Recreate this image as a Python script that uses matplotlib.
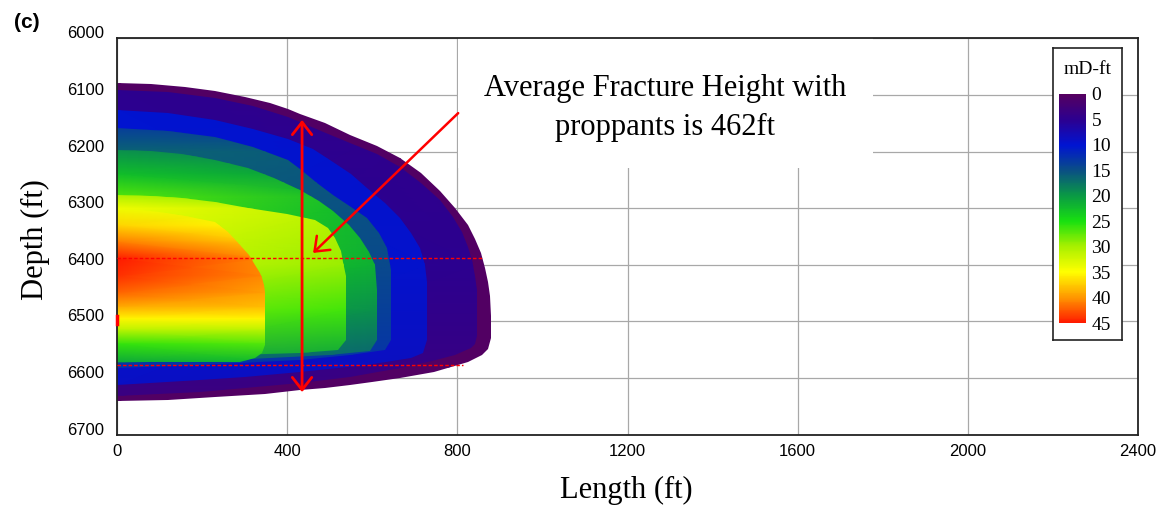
import matplotlib
matplotlib.use('Agg')
import matplotlib.pyplot as plt
import numpy as np
from matplotlib.colors import LinearSegmentedColormap, Normalize
from matplotlib.patches import Polygon, Rectangle
from matplotlib.cm import ScalarMappable
from matplotlib.transforms import ScaledTranslation

plt.rcParams['font.family'] = ['Liberation Sans', 'DejaVu Sans']
SERIF = 'Liberation Serif'

# legend scale (mD-ft)
cbar_ticks = [0, 5, 10, 15, 20, 25, 30, 35, 40, 45]
cbar_colors = ['#550060', '#2c0090', '#0014d2', '#0a4f84', '#0a9a44',
               '#18e010', '#a8f000', '#ffff00', '#ff9800', '#ff1a00']

# region outlines: length (ft) / depth (ft), outer -> inner
rim_len = [0, 80, 160, 231, 300, 360, 402, 431, 490, 548, 610, 666, 715, 760, 795, 824, 842, 856,
           866, 873, 877, 878, 878, 872, 859, 840, 824, 785, 744, 666, 600, 548, 490, 431, 348,
           231, 120, 0]
rim_dep = [6079, 6081, 6086, 6093, 6103, 6114, 6125, 6133, 6150, 6170, 6190, 6211, 6238, 6270,
           6300, 6330, 6355, 6380, 6405, 6430, 6455, 6490, 6529, 6548, 6559, 6566, 6571, 6580,
           6589, 6600, 6607, 6612, 6617, 6621, 6628, 6634, 6638, 6640]
ind_len = [0, 120, 231, 320, 402, 480, 548, 610, 666, 715, 760, 790, 812, 826, 835, 842, 847, 847,
           841, 831, 815, 795, 740, 666, 548, 431, 300, 195, 0]
ind_dep = [6091, 6095, 6105, 6120, 6139, 6163, 6185, 6205, 6227, 6255, 6285, 6315, 6342, 6368,
           6392, 6420, 6445, 6525, 6540, 6547, 6553, 6559, 6570, 6582, 6598, 6609, 6618, 6625, 6632]
blue_len = [0, 120, 231, 320, 402, 460, 508, 550, 588, 630, 666, 692, 713, 725, 729, 729, 720,
            690, 588, 431, 300, 195, 0]
blue_dep = [6127, 6132, 6144, 6160, 6178, 6196, 6218, 6240, 6264, 6290, 6317, 6343, 6370, 6400,
            6430, 6533, 6555, 6565, 6577, 6589, 6598, 6604, 6612]
teal_len = [0, 120, 231, 320, 402, 431, 470, 508, 550, 588, 615, 635, 645, 645, 631, 548, 431,
            195, 0]
teal_dep = [6158, 6163, 6174, 6192, 6215, 6230, 6255, 6277, 6298, 6317, 6343, 6370, 6409, 6533,
            6551, 6559, 6568, 6577, 6582]
green_len = [0, 80, 153, 230, 308, 370, 431, 475, 508, 545, 572, 593, 607, 612, 612, 595, 501,
             313, 0]
green_dep = [6197, 6199, 6204, 6214, 6229, 6246, 6268, 6288, 6305, 6330, 6353, 6377, 6400, 6444,
             6533, 6553, 6560, 6566, 6574]
yg_len = [0, 80, 153, 230, 308, 400, 466, 495, 513, 526, 532, 538, 539, 539, 520, 431, 195, 0]
yg_dep = [6277, 6278, 6282, 6289, 6300, 6310, 6320, 6335, 6353, 6375, 6395, 6420, 6444, 6533,
          6550, 6556, 6562, 6565]
core_len = [0, 60, 101, 160, 231, 262, 289, 310, 325, 336, 341, 346, 348, 348, 340, 325, 289, 0]
core_dep = [6303, 6304, 6307, 6313, 6325, 6342, 6365, 6383, 6400, 6415, 6423, 6435, 6448, 6542,
            6556, 6565, 6572, 6572]

# conductivity vs depth inside each region, at length 0 (left) and at its edge (right)
rim_pdep = [6075, 6645]
rim_left = [0.5, 0.5]
rim_right = [0.5, 0.5]
ind_pdep = [6090, 6400, 6635]
ind_left = [5, 5.5, 3.5]
ind_right = [4.5, 5, 3.5]
blue_pdep = [6125, 6400, 6612]
blue_left = [10, 10, 9]
blue_right = [9.5, 9.5, 8.5]
teal_pdep = [6155, 6200, 6400, 6585]
teal_left = [13.5, 16.5, 15, 12.5]
teal_right = [13.5, 15.5, 14.5, 12.5]
green_pdep = [6195, 6240, 6280, 6400, 6480, 6575]
green_left = [19, 22.5, 27, 25, 22, 16.5]
green_right = [18, 20, 22, 21.5, 19.5, 16]
yg_pdep = [6275, 6300, 6400, 6480, 6570]
yg_left = [30, 34, 32.5, 28.5, 21]
yg_right = [28, 31, 29.5, 26.5, 20.5]
core_pdep = [6300, 6330, 6360, 6390, 6420, 6450, 6475, 6495, 6515, 6540, 6572]
core_left = [34, 37, 41, 45, 44, 42, 39, 35.5, 31, 26, 21]
core_right = [33, 35, 37.5, 40.5, 40.5, 39.5, 38, 35.5, 31, 27, 22]

x_ticks = [0, 400, 800, 1200, 1600, 2000, 2400]
y_ticks = [6000, 6100, 6200, 6300, 6400, 6500, 6600, 6700]

cmap = LinearSegmentedColormap.from_list(
    'frac', list(zip(np.array(cbar_ticks) / 45.0, cbar_colors)))
norm = Normalize(0, 45)

fig = plt.figure(figsize=(11.64, 5.09), dpi=100)
ax = fig.add_axes([117 / 1164, 74.4 / 509, 1021 / 1164, 396.2 / 509])


def draw_region(lens, deps, pdep, left, right):
    outline = Polygon(np.column_stack([lens, deps]), closed=True, fc='none', ec='none')
    ax.add_patch(outline)
    X, Y = np.meshgrid([0, max(lens)], pdep)
    C = np.column_stack([left, right])
    m = ax.pcolormesh(X, Y, C, shading='gouraud', cmap=cmap, norm=norm, zorder=1)
    m.set_clip_path(outline)


draw_region(rim_len, rim_dep, rim_pdep, rim_left, rim_right)
draw_region(ind_len, ind_dep, ind_pdep, ind_left, ind_right)
draw_region(blue_len, blue_dep, blue_pdep, blue_left, blue_right)
draw_region(teal_len, teal_dep, teal_pdep, teal_left, teal_right)
draw_region(green_len, green_dep, green_pdep, green_left, green_right)
draw_region(yg_len, yg_dep, yg_pdep, yg_left, yg_right)
draw_region(core_len, core_dep, core_pdep, core_left, core_right)

ax.set_xlim(0, 2400)
ax.set_ylim(6700, 6000)
ax.set_xticks(x_ticks)
ax.set_yticks(y_ticks)
ax.grid(True, color='#a8a8a8', lw=0.9)
ax.set_axisbelow(True)
ax.tick_params(length=0, labelsize=12)
ax.tick_params(axis='x', pad=7)
ax.tick_params(axis='y', pad=9)
for s in ax.spines.values():
    s.set_linewidth(1.3)
    s.set_color('#222222')

# white label box over the grid
ax.add_patch(Rectangle((802, 6000), 974, 229, fc='white', ec='none', zorder=1.5))
ax.text(1289, 6088, 'Average Fracture Height with', ha='center', va='center',
        fontsize=22, family=SERIF, zorder=3)
ax.text(1289, 6158, 'proppants is 462ft', ha='center', va='center',
        fontsize=22, family=SERIF, zorder=3)

# red markers
ax.plot([0, 858], [6388, 6388], color='red', lw=1, ls=(0, (2.5, 1.5)), zorder=3)
ax.plot([0, 814], [6577, 6577], color='red', lw=1, ls=(0, (2.5, 1.5)), zorder=3)
ax.plot([0, 0], [6490, 6504], color='red', lw=2.5, clip_on=False, zorder=5)
ax.annotate('', xy=(435, 6144), xytext=(435, 6625),
            arrowprops=dict(arrowstyle='<->,head_length=0.45,head_width=0.35',
                            color='red', lw=2, mutation_scale=20, shrinkA=0, shrinkB=0),
            zorder=4)
ax.annotate('', xy=(461, 6379), xytext=(802, 6132),
            arrowprops=dict(arrowstyle='->,head_length=0.45,head_width=0.35',
                            color='red', lw=1.8, mutation_scale=20, shrinkA=0, shrinkB=0),
            zorder=4)

# nudge depth labels up a little like the original
for lbl in ax.get_yticklabels():
    lbl.set_transform(lbl.get_transform() + ScaledTranslation(0, 0.06, fig.dpi_scale_trans))

fig.text(35 / 1164, 1 - 240 / 509, 'Depth (ft)', rotation=90, ha='center', va='center',
         fontsize=22, family=SERIF)
fig.text(626 / 1164, 1 - 490 / 509, 'Length (ft)', ha='center', va='center',
         fontsize=22, family=SERIF)
fig.text(27 / 1164, 1 - 22 / 509, '(c)', ha='center', va='center', fontsize=15,
         fontweight='bold')

# legend box
box = fig.add_axes([1053 / 1164, 169 / 509, 69 / 1164, 292 / 509])
box.set_xticks([])
box.set_yticks([])
for s in box.spines.values():
    s.set_linewidth(1.2)
    s.set_color('#222222')
bar = fig.add_axes([1059 / 1164, 186 / 509, 27 / 1164, 229 / 509])
cb = fig.colorbar(ScalarMappable(norm=norm, cmap=cmap), cax=bar, ticks=cbar_ticks)
bar.invert_yaxis()
cb.outline.set_visible(False)
bar.tick_params(length=0, pad=4, labelsize=14)
for lbl in bar.get_yticklabels():
    lbl.set_fontfamily(SERIF)
fig.text(1088 / 1164, 1 - 70 / 509, 'mD-ft', ha='center', va='center', fontsize=14,
         family=SERIF)

fig.savefig('out.png', dpi=100)
